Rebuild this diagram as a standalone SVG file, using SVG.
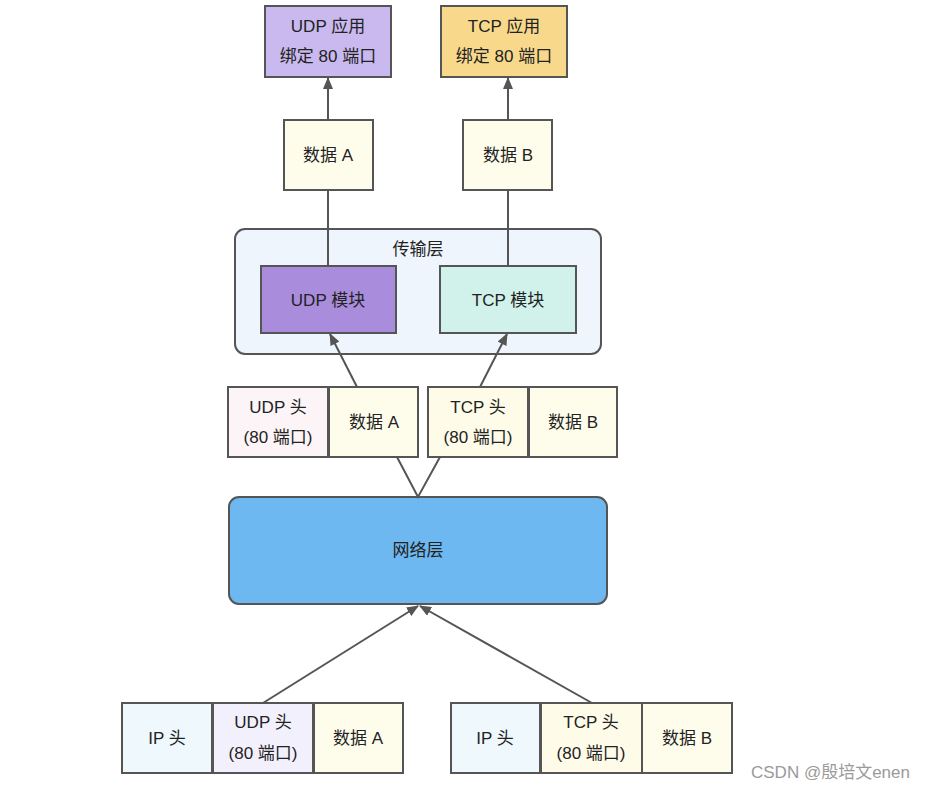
<svg xmlns="http://www.w3.org/2000/svg" width="933" height="790" viewBox="0 0 933 790">
<defs>
<marker id="ah" viewBox="0 0 12 10" refX="11" refY="5" markerWidth="12" markerHeight="10" markerUnits="userSpaceOnUse" orient="auto">
<path d="M0,0 L12,5 L0,10 Z" fill="#555"/>
</marker>
</defs>
<style>
.b{stroke:#555;stroke-width:2}
.t{font-family:"Liberation Sans","Noto Sans CJK SC",sans-serif;font-size:17px;fill:#222;text-anchor:middle;dominant-baseline:central}
.c{stroke:#555;stroke-width:2;fill:none}
</style>
<rect width="933" height="790" fill="#fff"/>
<g id="transport">
<rect class="b" x="235" y="229" width="366" height="125" rx="10" fill="#eef5fd"/>
<text class="t" x="418" y="249">传输层</text>
</g>
<g id="udp-app"><rect class="b" x="265" y="6" width="126" height="71" fill="#c9b9ef"/><text class="t" x="328" y="26">UDP 应用</text><text class="t" x="328" y="56">绑定 80 端口</text></g>
<g id="tcp-app"><rect class="b" x="441" y="6" width="126" height="71" fill="#f8d98c"/><text class="t" x="504" y="26">TCP 应用</text><text class="t" x="504" y="56">绑定 80 端口</text></g>
<g id="data-a-top"><rect class="b" x="284" y="120" width="89" height="70" fill="#fefdec"/><text class="t" x="328" y="155">数据 A</text></g>
<g id="data-b-top"><rect class="b" x="463" y="120" width="89" height="70" fill="#fefdec"/><text class="t" x="508" y="155">数据 B</text></g>
<g id="udp-mod"><rect class="b" x="261" y="266" width="135" height="67" fill="#a98ddc"/><text class="t" x="328" y="300">UDP 模块</text></g>
<g id="tcp-mod"><rect class="b" x="440" y="266" width="136" height="67" fill="#d0f2ea"/><text class="t" x="508" y="300">TCP 模块</text></g>
<g id="udp-head-mid"><rect class="b" x="228" y="387" width="100" height="70" fill="#fdf4f8"/><text class="t" x="278" y="407">UDP 头</text><text class="t" x="278" y="437">(80 端口)</text></g>
<g id="data-a-mid"><rect class="b" x="329" y="387" width="89" height="70" fill="#fefdec"/><text class="t" x="374" y="422">数据 A</text></g>
<g id="tcp-head-mid"><rect class="b" x="428" y="387" width="100" height="70" fill="#fefbe9"/><text class="t" x="478" y="407">TCP 头</text><text class="t" x="478" y="437">(80 端口)</text></g>
<g id="data-b-mid"><rect class="b" x="529" y="387" width="88" height="70" fill="#fefdec"/><text class="t" x="573" y="422">数据 B</text></g>
<g id="network"><rect class="b" x="229" y="497" width="378" height="107" rx="10" fill="#6db8f1"/><text class="t" x="418" y="550">网络层</text></g>
<g id="ip-a"><rect class="b" x="122" y="703" width="90" height="70" fill="#eef8fd"/><text class="t" x="167" y="738">IP 头</text></g>
<g id="udp-head-bot"><rect class="b" x="213" y="703" width="100" height="70" fill="#f2f0fc"/><text class="t" x="263" y="722">UDP 头</text><text class="t" x="263" y="753">(80 端口)</text></g>
<g id="data-a-bot"><rect class="b" x="314" y="703" width="89" height="70" fill="#fefdec"/><text class="t" x="358" y="738">数据 A</text></g>
<g id="ip-b"><rect class="b" x="451" y="703" width="89" height="70" fill="#eef8fd"/><text class="t" x="495" y="738">IP 头</text></g>
<g id="tcp-head-bot"><rect class="b" x="541" y="703" width="101" height="70" fill="#fefbe9"/><text class="t" x="591" y="722">TCP 头</text><text class="t" x="591" y="753">(80 端口)</text></g>
<g id="data-b-bot"><rect class="b" x="642" y="703" width="90" height="70" fill="#fefdec"/><text class="t" x="687" y="738">数据 B</text></g>
<g id="connectors">
<line class="c" x1="328" y1="120" x2="328" y2="78" marker-end="url(#ah)"/>
<line class="c" x1="508" y1="120" x2="508" y2="78" marker-end="url(#ah)"/>
<line class="c" x1="328" y1="190" x2="328" y2="266"/>
<line class="c" x1="508" y1="190" x2="508" y2="266"/>
<line class="c" x1="357" y1="387" x2="330" y2="334" marker-end="url(#ah)"/>
<line class="c" x1="480" y1="387" x2="507" y2="334" marker-end="url(#ah)"/>
<polyline class="c" points="397,457 418,497 440,457"/>
<line class="c" x1="263" y1="703" x2="418" y2="606" marker-end="url(#ah)"/>
<line class="c" x1="592" y1="703" x2="420" y2="606" marker-end="url(#ah)"/>
</g>
<text x="751" y="778" font-family="Liberation Sans,'Noto Sans CJK SC',sans-serif" font-size="17" fill="#9a9a9a">CSDN @殷培文enen</text>
</svg>
